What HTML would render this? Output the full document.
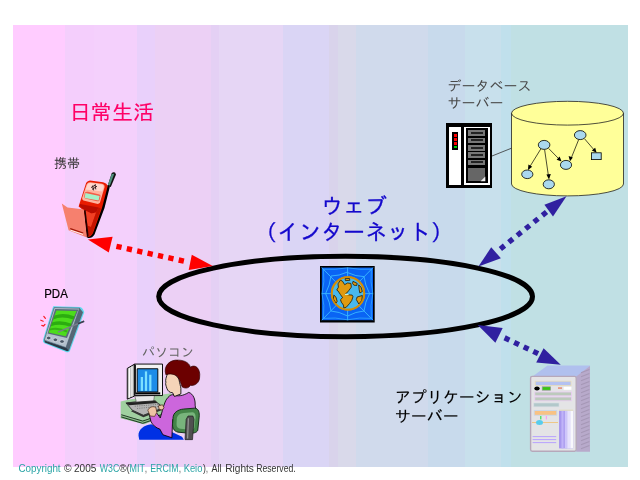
<!DOCTYPE html>
<html lang="ja">
<head>
<meta charset="utf-8">
<title>日常生活とウェブ</title>
<style>
html,body{margin:0;padding:0;background:#fff;width:640px;height:480px;overflow:hidden}
svg{display:block;position:absolute;left:0;top:0;will-change:transform}
text{font-family:"Liberation Sans","IPAGothic","Noto Sans CJK JP",sans-serif}
.jp{font-family:"Liberation Sans","IPAGothic","Noto Sans CJK JP",sans-serif}
</style>
</head>
<body>
<svg width="640" height="480" viewBox="0 0 640 480">
<!-- BACKGROUND -->
<g id="bg" shape-rendering="crispEdges">
<rect x="13" y="25" width="615" height="441.5" fill="#ffccff"/>
<rect x="65" y="25" width="29" height="441.5" fill="#f4cefc"/>
<rect x="94" y="25" width="43" height="441.5" fill="#f4d0fc"/>
<rect x="137" y="25" width="18" height="441.5" fill="#e9d0fb"/>
<rect x="155" y="25" width="56" height="441.5" fill="#ecd0f5"/>
<rect x="211" y="25" width="8" height="441.5" fill="#e4d0f4"/>
<rect x="219" y="25" width="64" height="441.5" fill="#e6d6f5"/>
<rect x="283" y="25" width="46" height="441.5" fill="#dad5f5"/>
<rect x="329" y="25" width="9" height="441.5" fill="#d9d3eb"/>
<rect x="338" y="25" width="18" height="441.5" fill="#d9d9ea"/>
<rect x="356" y="25" width="72" height="441.5" fill="#d0daec"/>
<rect x="428" y="25" width="37" height="441.5" fill="#c8daec"/>
<rect x="465" y="25" width="36" height="441.5" fill="#c8e0ec"/>
<rect x="501" y="25" width="10" height="441.5" fill="#c0e0ec"/>
<rect x="511" y="25" width="117" height="441.5" fill="#c0e0e4"/>
</g>
<!-- TEXT -->
<g id="labels">
<text x="69.4" y="119.8" font-size="21.2" fill="#ff0066" stroke="#ff0066" stroke-width="0.12">日常生活</text>
<text x="54" y="168" font-size="13" fill="#333">携帯</text>
<text x="353.9" y="214" font-size="22" fill="#1408cc" stroke="#1408cc" stroke-width="0.28" text-anchor="middle">ウェブ</text>
<text x="354" y="239.6" font-size="22" fill="#1408cc" stroke="#1408cc" stroke-width="0.28" text-anchor="middle">（インターネット）</text>
<text x="447.5" y="90.5" font-size="14" fill="#4a4a4a">データベース</text>
<text x="447.5" y="108" font-size="14" fill="#4a4a4a">サーバー</text>
<text x="394.8" y="403" font-size="16" fill="#000" stroke="#000" stroke-width="0.12">アプリケーション</text>
<text x="394.8" y="422.3" font-size="16" fill="#000" stroke="#000" stroke-width="0.12">サーバー</text>
<text x="44.2" y="297.5" font-size="12.5" fill="#000" stroke="#000" stroke-width="0.2" textLength="23.6" lengthAdjust="spacingAndGlyphs">PDA</text>
<text x="142" y="357.3" font-size="13" fill="#666">パソコン</text>
</g>
<!-- PHONE -->
<g id="phone">
<path d="M107.6,186 L111.6,173.4 Q113,171.4 115,172.6 L116,174.4 L110.8,187 Z" fill="#111"/>
<path d="M107.8,185 L111.7,174 L114.3,173.8 L109.9,185.6 Z" fill="#4f917d"/>
<path d="M107.6,185 L109.9,186.6 L104.5,208 L94.5,234.5 Q92,238.6 88,238 L86,236.5 L90,234 L100,208 Z" fill="#000"/>
<path d="M85.6,184.5 Q86.6,181 90,180.6 L103,182.2 Q107.3,183.3 107.6,186.5 L102,208 L93,233 Q91,237 88,236.6 L86.6,236 L83.6,210.5 L78.6,206.6 Z" fill="#e81c00"/>
<path d="M80,204 L98.5,207.5 L96,212.5 L91.5,213.5 L84,209.8 L79.5,206 Z" fill="#b80c00"/>
<path d="M84.6,210.2 L91.5,213.6 L96,212.4 L91,227 L87.8,226 Z" fill="#f24024"/>
<path d="M87.6,225.8 L91,227 L96.2,212.4 L98.4,207.6 L101,208.5 L92.5,233 Q90.8,236.6 88.4,236.2 Z" fill="#c41400"/>
<path d="M84,210.6 L85.6,210 L88.6,235.8 L86.6,236.6 Z" fill="#200"/>
<path d="M86.6,184.6 Q87.6,182.2 90.2,182.2 L102,183.8 Q104.8,184.6 104.6,187 L100,202.5 Q99,204.2 96.8,203.8 L83.4,200.6 Q81.6,199.6 82.2,197.8 Z" fill="#ffb4a0"/>
<path d="M87.4,184.8 Q88.2,183 90.4,183 L101.6,184.5 Q103.9,185.2 103.6,187 L102.2,191.5 L85.6,189.6 Z" fill="#ffd6cc"/>
<path d="M84.9,192.6 Q86,191.4 88,191.8 L99.4,194.6 Q100.9,195.2 100.4,196.8 L99.4,200.4 Q98.6,201.6 97,201.2 L85.2,198.6 Q83.8,198 84.2,196.4 Z" fill="#f45c48"/>
<path d="M85.4,193 L99.6,196 L98.6,200.6 L84.6,198 Z" fill="#a6f0c8"/>
<path d="M91,187.6 L96,184.6 M92,189.4 L97,186.2 M92.6,185.6 L93.6,190.4 M95,184.6 L95.8,189.4" stroke="#301818" stroke-width="0.9" fill="none"/>
<path d="M61.8,203.6 L67.5,207.4 L76,208.4 L83.6,209.6 L86.8,237.6 L68.6,230.2 Z" fill="#f6806e"/>
<path d="M70.2,228.6 L83.2,233" stroke="#a01808" stroke-width="1.3" fill="none"/>
<path d="M70.4,230.2 L83,234.4" stroke="#fff0ee" stroke-width="1" fill="none"/>
</g>
<!-- DATABASE -->
<g id="db">
<line x1="492" y1="156" x2="512" y2="148" stroke="#333" stroke-width="0.8"/>
<path d="M511.5,113.2 A56,11.9 0 0 1 623.5,113.2 L623.5,184 A56,11.9 0 0 1 511.5,184 Z" fill="#ffff99" stroke="#222" stroke-width="0.8"/>
<path d="M511.5,113.2 A56,11.9 0 0 0 623.5,113.2" fill="none" stroke="#222" stroke-width="0.8"/>
<g stroke="#000" stroke-width="0.7" fill="none">
<line x1="541" y1="148.6" x2="529.4" y2="167.4"/>
<line x1="544.6" y1="149.6" x2="548.6" y2="177"/>
<line x1="548.6" y1="148.4" x2="559.6" y2="159.6"/>
<line x1="578.6" y1="139.8" x2="571" y2="158.6"/>
<line x1="584.4" y1="138.6" x2="595" y2="151"/>
</g>
<g fill="#000">
<polygon points="528,170 528.4,164.6 532.2,166.8"/>
<polygon points="549,179.6 546.4,174.6 550.8,174"/>
<polygon points="561.6,161.4 556.6,159.8 559.6,156.6"/>
<polygon points="570,161.2 568.6,156 572.8,157.6"/>
<polygon points="596.6,152.8 591.8,150.6 595.2,147.8"/>
</g>
<g fill="#aad8ee" stroke="#000" stroke-width="0.8">
<ellipse cx="544.1" cy="144.9" rx="5.8" ry="4.5"/>
<ellipse cx="580.2" cy="135.1" rx="5.8" ry="4.5"/>
<ellipse cx="566" cy="164.9" rx="5.6" ry="4.5"/>
<ellipse cx="527.3" cy="174.3" rx="5.6" ry="4.3"/>
<ellipse cx="548.8" cy="184.3" rx="5.6" ry="4.5"/>
<rect x="591.6" y="152.8" width="9.6" height="6.8"/>
</g>
</g>
<!-- SERVER -->
<g id="server" shape-rendering="crispEdges">
<rect x="446" y="123" width="46" height="65" fill="#000"/>
<rect x="449" y="127" width="12" height="58" fill="#fff"/>
<rect x="452" y="132" width="6" height="18" fill="#000"/>
<rect x="453.5" y="134" width="3" height="2.6" fill="#f00"/>
<rect x="453.5" y="138" width="3" height="2.6" fill="#f00"/>
<rect x="453.5" y="142" width="3" height="2.6" fill="#f00"/>
<rect x="453.5" y="146" width="3" height="2.4" fill="#0c0"/>
<rect x="464.3" y="126.8" width="25.2" height="58.2" fill="#fff"/>
<rect x="466" y="128.4" width="21.8" height="55" fill="#000"/>
<g fill="#777">
<rect x="468.3" y="130.2" width="17" height="5.6"/>
<rect x="468.3" y="137.6" width="17" height="5.6"/>
<rect x="468.3" y="145" width="17" height="5.6"/>
<rect x="468.3" y="152.4" width="17" height="5.4"/>
<rect x="468.3" y="159.6" width="17" height="5.6"/>
<rect x="468.3" y="167.6" width="17" height="13.6" fill="#666"/>
</g>
<g fill="#222">
<rect x="471" y="132" width="11.6" height="2"/>
<rect x="471" y="139.4" width="11.6" height="2"/>
<rect x="471" y="146.8" width="11.6" height="2"/>
<rect x="471" y="154.2" width="11.6" height="2"/>
<rect x="471" y="161.4" width="11.6" height="2"/>
</g>
<polygon points="485.3,176.6 485.3,181.2 480.6,181.2" fill="#eee" shape-rendering="auto"/>
</g>
<!-- GLOBE -->
<g id="globe">
<rect x="320" y="266" width="54.7" height="56.5" fill="#000"/>
<rect x="321.8" y="267.6" width="51.2" height="52.6" fill="#0a64f4"/>
<g stroke="#38b4ff" stroke-width="0.95" fill="none">
<path d="M321.8,267.6 L373,320.2 M373,267.6 L321.8,320.2 M347.6,267.6 L347.6,320.2 M321.8,293.6 L373,293.6"/>
<path d="M347.6,272.6 Q356,276.6 364,276.6 Q365,285 369.6,293.6 Q365,302 364,311 Q356,311.5 347.6,316 Q339,311.5 331,311 Q330,302 325.6,293.6 Q330,285 331,276 Q339,276 347.6,272"/>
<path d="M347.6,267.8 Q360,270 371.4,269.2 Q370,282 372.8,293.6 Q370,305 371.4,318.4 Q360,317 347.6,319.8 Q335,317 323.4,318.4 Q325,305 322,293.6 Q325,282 323.4,269.2 Q335,270 347.6,267.8" opacity="0.7"/>
</g>
<circle cx="348" cy="293.4" r="16.2" fill="#48b8ec" stroke="#d89410" stroke-width="2"/>
<g transform="translate(328,273) scale(0.083333)" fill="#e09a10" stroke="#181000" stroke-width="9" stroke-linejoin="round">
<path d="M150,85 L175,100 L200,140 L235,120 L275,125 L280,170 L250,210 L225,240 L205,255 L245,262 L290,265 L300,285 L285,330 L260,365 L220,410 L190,420 L185,385 L160,350 L150,320 L175,295 L150,260 L120,215 L105,205 L125,170 L120,130 Z"/>
<path d="M205,68 L258,66 L262,88 L210,92 Z"/>
<path d="M300,100 L350,125 L345,150 L310,146 L295,125 Z"/>
<path d="M368,142 L396,170 L412,222 L382,240 L374,200 Z"/>
<path d="M350,288 L412,270 L406,330 L370,372 L340,320 Z"/>
<path d="M70,265 L96,290 L110,340 L96,362 L64,312 Z"/>
</g>
<rect x="345" y="293.8" width="3.6" height="1.2" fill="#d0f0c8"/>
<circle cx="348" cy="293.4" r="16.4" fill="none" stroke="#d08c08" stroke-width="1.6"/>
</g>
<!-- APP SERVER -->
<g id="appserver">
<polygon points="532.5,376.6 547.5,365.6 590,365.6 590,366.4 576.6,377" fill="#b0c0ee"/>
<polygon points="576.2,376.6 590,366 590,451.8 576.2,451.8" fill="#b8aacb"/>
<path d="M581,372.7 L589.4,369.5 M581,376.7 L589.4,373.5 M581,380.7 L589.4,377.5 M581,384.7 L589.4,381.5 M581,388.7 L589.4,385.5 M581,392.7 L589.4,389.5 M581,396.7 L589.4,393.5 M581,400.7 L589.4,397.5 M581,404.7 L589.4,401.5 M581,408.7 L589.4,405.5 M581,412.7 L589.4,409.5 M581,416.7 L589.4,413.5 M581,420.7 L589.4,417.5 M581,424.7 L589.4,421.5 M581,428.7 L589.4,425.5 M581,432.7 L589.4,429.5 M581,436.7 L589.4,433.5 M581,440.7 L589.4,437.5 M581,444.7 L589.4,441.5 M581,448.7 L589.4,445.5" stroke="#a698b6" stroke-width="1.2" fill="none"/>
<rect x="530.6" y="376.4" width="45.6" height="74.8" rx="1.6" fill="#e4e4e6" stroke="#b6a8ba" stroke-width="1.4"/>
<rect x="535.2" y="381.2" width="35.8" height="4.4" fill="#b4c2f2" stroke="#e8dcb8" stroke-width="0.8"/>
<ellipse cx="537" cy="388.5" rx="2.7" ry="1.9" fill="#000"/>
<rect x="542.2" y="386.8" width="8.4" height="3.4" fill="#38c810" stroke="#9a9a9a" stroke-width="0.7"/>
<rect x="558" y="387.5" width="4" height="1.1" fill="#e86848"/>
<rect x="563.6" y="386.8" width="7.8" height="3" fill="#fff"/>
<rect x="534.8" y="392" width="36.6" height="3.8" fill="#bccabc" stroke="#ecccf4" stroke-width="0.8"/>
<rect x="534.8" y="397" width="36.6" height="3.8" fill="#bccabc" stroke="#ecccf4" stroke-width="0.8"/>
<rect x="533.8" y="403" width="25.2" height="3.8" fill="#b2c8ca" stroke="#d4dce4" stroke-width="0.6"/>
<rect x="534.2" y="410.6" width="22.6" height="4.6" fill="#f8c284" stroke="#c4d8f0" stroke-width="0.8"/>
<rect x="540.2" y="416" width="1.2" height="3.4" fill="#30e050"/>
<rect x="545.8" y="416" width="1.2" height="3.4" fill="#f8a0f0"/>
<rect x="532" y="422.2" width="26" height="0.8" fill="#f0c070"/>
<ellipse cx="539.5" cy="422.6" rx="3.5" ry="2.5" fill="#58ccec"/>
<rect x="532.6" y="436" width="23.6" height="1.1" fill="#bca8fc"/>
<rect x="532.6" y="439" width="23.6" height="1.1" fill="#bca8fc"/>
<rect x="532.6" y="442" width="23.6" height="1.1" fill="#bca8fc"/>
<rect x="559" y="410.4" width="14.2" height="38" fill="#a898ee"/>
<rect x="561.4" y="410.4" width="2.2" height="38" fill="#c0b4f8"/>
<rect x="564.8" y="410.4" width="2.4" height="38" fill="#cec6fa"/>
<rect x="567.2" y="410.4" width="3" height="38" fill="#e6e2fc"/>
<rect x="570.2" y="410.4" width="3" height="38" fill="#f8f8fc"/>
<rect x="559" y="409.6" width="14.2" height="1.2" fill="#e0dcc0"/>
</g>
<!-- PDA -->
<g id="pda">
<path d="M53.6,306.8 L79.8,307.6 Q81.6,307.8 82.4,309.4 L83.6,312.2 L69.4,350.6 Q68.6,352 67,351.6 L44.6,342.6 Q43,341.8 43.6,340 Z" fill="#60d8ee" stroke="#60d8ee" stroke-width="1.2" stroke-linejoin="round"/>
<path d="M79.6,308 L83,312.2 L69,350.4 L65.6,347.6 Z" fill="#566676"/>
<path d="M44.2,340.2 L66,347.4 L69,350.6 L67.2,351.2 L44.8,342.4 Z" fill="#2c3846"/>
<path d="M54.2,307.6 L79.6,308.2 L66,347.6 L44.2,340.2 Z" fill="#b4c0cc" stroke="#4c5c6c" stroke-width="0.7" stroke-linejoin="round"/>
<path d="M55.2,309 L78.4,309.6 L67,338 L47.6,333.6 Z" fill="#5a6a7a"/>
<path d="M56.4,310.6 L76.6,311 L65.8,336.2 L48.6,332.4 Z" fill="#4cdc1c"/>
<path d="M54.6,315.6 Q63,312.2 74.8,316.4 L73.4,319.6 Q62,315.6 53.2,319.4 Z" fill="#2cac10"/>
<path d="M52,322.6 Q61,319.4 71.6,323.8 L70.4,326.8 Q60,323 50.8,326.2 Z" fill="#2cac10"/>
<path d="M50,328.6 Q58,326.4 67.6,330.6 L66.8,332.4 Q58,328.6 49.4,330.4 Z" fill="#34b414"/>
<path d="M58,332.2 L84,321.2" stroke="#7a7e8e" stroke-width="1.3" fill="none"/>
<path d="M78,323.8 L84.2,321.2" stroke="#3a4050" stroke-width="1.7" fill="none"/>
<ellipse cx="48.7" cy="338" rx="2.3" ry="1.8" fill="#4a5666" stroke="#e4ecf4" stroke-width="0.6"/>
<ellipse cx="55.4" cy="339.8" rx="2.3" ry="1.8" fill="#4a5666" stroke="#e4ecf4" stroke-width="0.6"/>
<ellipse cx="62" cy="341.5" rx="2.3" ry="1.8" fill="#4a5666" stroke="#e4ecf4" stroke-width="0.6"/>
<path d="M43.8,316.4 L45.4,318.4 M40.8,320.2 L43.2,321.2 M41.8,325.4 L43.6,326 L45,324.4" stroke="#f81c24" stroke-width="1.2" fill="none" stroke-linecap="round"/>
</g>
<!-- PC USER -->
<g id="pcuser" transform="translate(116,356) scale(0.1875)" stroke-linejoin="round">
<!-- desk -->
<path d="M25,242 L70,232 L250,205 L292,198 L300,222 L262,262 L250,300 L150,342 L25,312 Z" fill="#a0d0a0"/>
<path d="M25,312 L150,342 L250,300 L250,325 L150,364 L25,332 Z" fill="#8cc08c"/>
<path d="M28,313 L142,347 L246,312 M28,325 L142,359 L246,324" stroke="#0c2410" stroke-width="4.5" fill="none"/>
<!-- pants -->
<path d="M120,425 C118,392 150,368 188,364 L240,388 L292,402 L352,430 L362,446 L124,446 Z" fill="#0030e4"/>
<!-- monitor -->
<path d="M60,66 L98,44 L98,214 L60,230 Z" fill="#c4c4c4" stroke="#000" stroke-width="5"/>
<path d="M72,64 L72,222 M85,56 L85,216" stroke="#fff" stroke-width="5" fill="none"/>
<path d="M100,214 L205,210 L200,246 L236,258 L128,276 L62,250 L108,242 Z" fill="#e8e8e8" stroke="#444" stroke-width="3"/>
<rect x="98" y="43" width="150" height="168" fill="#f2f2f2" stroke="#000" stroke-width="5"/>
<rect x="106" y="194" width="130" height="11" fill="#000"/>
<rect x="100" y="46" width="6" height="160" fill="#000"/>
<rect x="113" y="68" width="110" height="124" fill="#1c8ce8" stroke="#000" stroke-width="5"/>
<rect x="132" y="112" width="12" height="74" fill="#7ce0ff"/>
<rect x="154" y="82" width="12" height="104" fill="#7ce0ff"/>
<rect x="177" y="100" width="12" height="86" fill="#7ce0ff"/>
<!-- keyboard -->
<path d="M53,250 L209,239 L250,277 L146,316 L87,289 Z" fill="#b4b4b4" stroke="#111" stroke-width="4"/>
<path d="M53,250 L209,239 L222,251 L70,262 Z" fill="#222"/>
<path d="M87,289 L146,316 L250,277 L250,286 L146,326 L80,294 Z" fill="#333"/>
<path d="M100,268 L225,258 M112,280 L236,268" stroke="#6a6a6a" stroke-width="4" stroke-dasharray="6 6" fill="none"/>
<!-- shirt -->
<path d="M300,206 C330,218 360,212 388,194 C412,202 424,232 422,262 L428,302 L330,300 L302,340 L298,436 L250,420 L234,390 C214,384 194,368 186,348 L178,316 L214,300 L236,330 C246,300 256,250 270,230 C280,216 290,208 300,206 Z" fill="#cc66dc" stroke="#000" stroke-width="4.5"/>
<!-- hands -->
<path d="M170,290 C176,272 196,266 212,274 L218,300 L206,322 L182,320 Z" fill="#eec4a4" stroke="#402010" stroke-width="3.5"/>
<path d="M226,266 L248,260 L256,276 L246,288 L230,284 Z" fill="#eec4a4" stroke="#402010" stroke-width="3.5"/>
<!-- face -->
<path d="M276,92 C300,86 326,100 336,126 C340,146 344,160 346,172 L346,202 L312,216 L302,196 C286,196 276,186 271,172 C268,160 262,150 266,140 C262,130 268,110 276,92 Z" fill="#f4d4b8" stroke="#000" stroke-width="4.5"/>
<!-- hair -->
<path d="M266,100 C250,50 290,18 332,22 C374,22 396,46 396,60 C424,40 452,70 446,112 C446,142 420,162 396,156 C390,172 368,176 352,164 C346,146 340,124 326,108 C308,96 288,92 266,100 Z" fill="#6c0000" stroke="#2a0000" stroke-width="3.5"/>
<!-- chair -->
<path d="M304,332 C304,302 330,286 360,283 L420,278 C440,280 447,300 443,330 L436,396 C430,411 410,413 380,411 L330,406 C306,400 300,380 302,360 Z" fill="#448448" stroke="#102c14" stroke-width="5"/>
<path d="M324,338 C324,316 342,306 362,304 L408,300 C422,302 426,314 424,332 L418,382 C414,392 402,394 382,392 L344,388 C326,384 322,372 323,358 Z" fill="#78b47c"/>
<path d="M374,338 L384,320 L410,320 L416,338 L408,446 L368,446 Z" fill="#505050" stroke="#1a1a1a" stroke-width="3.5"/>
<path d="M386,332 L382,440" stroke="#9a9a9a" stroke-width="6" fill="none"/>
</g>
<!-- ELLIPSE -->
<ellipse cx="345.6" cy="296.5" rx="186.9" ry="40.2" fill="none" stroke="#000" stroke-width="5"/>
<!-- ARROWS -->
<g id="arrows">
<g fill="#ff0000" stroke="none">
<polygon points="87.9,239.5 112.6,236.8 108.8,252.5"/>
<polygon points="212.8,266 191.8,254.8 188.7,270"/>
</g>
<line x1="116.4" y1="246.35" x2="183.9" y2="261.15" stroke="#ff0000" stroke-width="5.4" stroke-dasharray="5.3 5.33"/>
<g fill="#3020a0" stroke="none">
<polygon points="566.5,196.3 544.4,204.7 553,216.4"/>
<polygon points="478.4,266.6 491.2,247.3 500.9,258.2"/>
<polygon points="477.7,325.1 502.7,328 495.4,342.7"/>
<polygon points="560.75,364.7 543.6,348.2 536.2,362.4"/>
</g>
<line x1="546.5" y1="212" x2="500.3" y2="249" stroke="#3020a0" stroke-width="5.3" stroke-dasharray="5.3 5.46"/>
<line x1="504.6" y1="337.76" x2="538.1" y2="353.74" stroke="#3020a0" stroke-width="5.3" stroke-dasharray="5.3 5.3"/>
</g>
</svg>
<svg width="640" height="480" viewBox="0 0 640 480" id="footer">
<g font-size="10.4" style="font-family:'Liberation Sans',sans-serif">
<text x="18.5" y="471.6" fill="#2aa4a6" textLength="42.1" lengthAdjust="spacingAndGlyphs">Copyright</text>
<text x="64.0" y="471.6" fill="#333" textLength="7.6" lengthAdjust="spacingAndGlyphs">©</text>
<text x="74.0" y="471.6" fill="#333" textLength="22.4" lengthAdjust="spacingAndGlyphs">2005</text>
<text x="99.8" y="471.6" fill="#2aa4a6" textLength="19.4" lengthAdjust="spacingAndGlyphs">W3C</text>
<text x="119.3" y="471.6" fill="#333" textLength="7.4" lengthAdjust="spacingAndGlyphs">®</text>
<text x="126.8" y="471.6" fill="#333" textLength="2.9" lengthAdjust="spacingAndGlyphs">(</text>
<text x="129.6" y="471.6" fill="#2aa4a6" textLength="15.4" lengthAdjust="spacingAndGlyphs">MIT</text>
<text x="145.1" y="471.6" fill="#333" textLength="1.9" lengthAdjust="spacingAndGlyphs">,</text>
<text x="150.2" y="471.6" fill="#2aa4a6" textLength="28.3" lengthAdjust="spacingAndGlyphs">ERCIM</text>
<text x="178.9" y="471.6" fill="#333" textLength="1.9" lengthAdjust="spacingAndGlyphs">,</text>
<text x="183.7" y="471.6" fill="#2aa4a6" textLength="18.7" lengthAdjust="spacingAndGlyphs">Keio</text>
<text x="203.0" y="471.6" fill="#333" textLength="2.9" lengthAdjust="spacingAndGlyphs">)</text>
<text x="206.1" y="471.6" fill="#333" textLength="1.9" lengthAdjust="spacingAndGlyphs">,</text>
<text x="211.6" y="471.6" fill="#333" textLength="10.0" lengthAdjust="spacingAndGlyphs">All</text>
<text x="225.2" y="471.6" fill="#333" textLength="28.7" lengthAdjust="spacingAndGlyphs">Rights</text>
<text x="256.2" y="471.6" fill="#333" textLength="39.5" lengthAdjust="spacingAndGlyphs">Reserved.</text>
</g>
</svg>
</body>
</html>
